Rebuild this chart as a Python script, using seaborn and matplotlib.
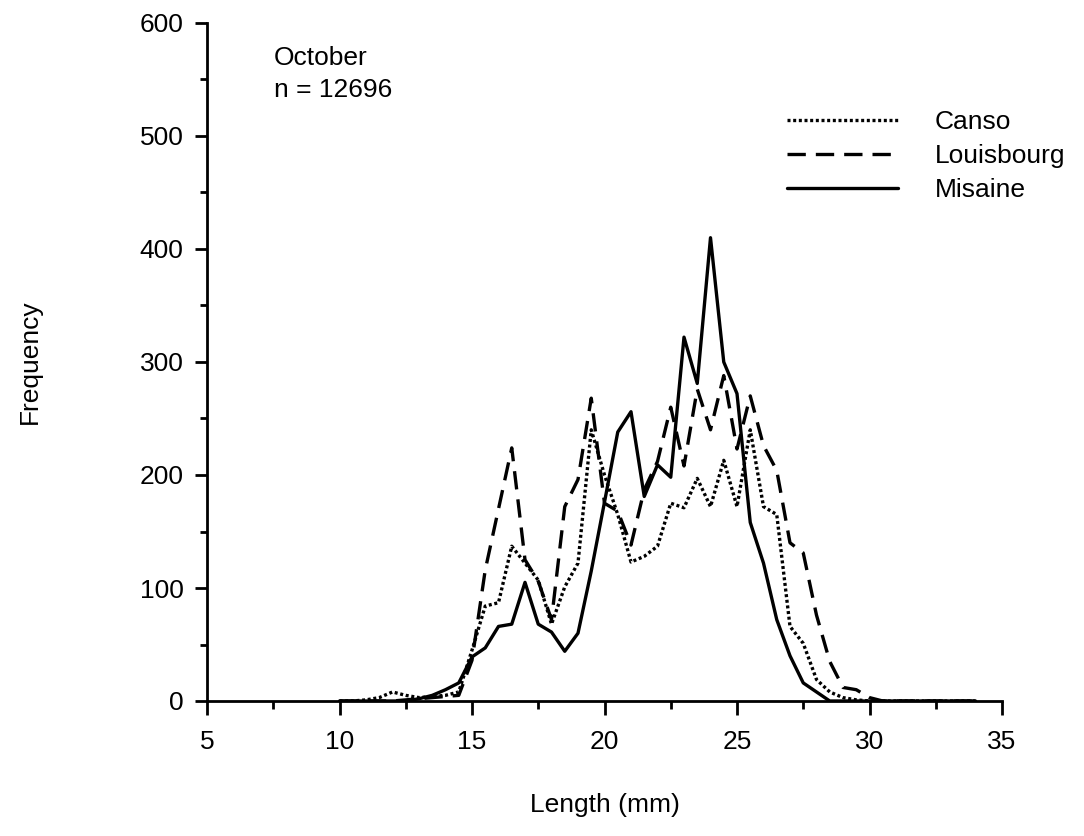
import matplotlib
matplotlib.use("Agg")
import matplotlib.pyplot as plt
from matplotlib.ticker import MultipleLocator
import seaborn as sns
import pandas as pd

# ---- data ----
lengths = [10.0, 10.5, 11.0, 11.5, 12.0, 12.5, 13.0, 13.5, 14.0, 14.5,
           15.0, 15.5, 16.0, 16.5, 17.0, 17.5, 18.0, 18.5, 19.0, 19.5,
           20.0, 20.5, 21.0, 21.5, 22.0, 22.5, 23.0, 23.5, 24.0, 24.5,
           25.0, 25.5, 26.0, 26.5, 27.0, 27.5, 28.0, 28.5, 29.0, 29.5,
           30.0, 30.5, 31.0, 31.5, 32.0, 32.5, 33.0, 33.5, 34.0]

canso = [0, 0, 1, 3, 8, 5, 3, 4, 5, 8,
         45, 84, 87, 137, 122, 107, 68, 101, 122, 240,
         200, 165, 123, 128, 137, 175, 171, 197, 172, 213,
         172, 240, 172, 165, 66, 51, 19, 8, 3, 1,
         0, 0, 0, 0, 0, 0, 0, 0, 0]

louisbourg = [0, 0, 0, 0, 0, 1, 2, 3, 4, 5,
              36, 116, 170, 224, 125, 106, 72, 172, 196, 268,
              175, 168, 138, 187, 212, 260, 208, 276, 240, 288,
              223, 270, 226, 204, 140, 131, 76, 35, 12, 10,
              3, 0, 0, 0, 0, 0, 0, 0, 0]

misaine = [0, 0, 0, 0, 0, 0, 2, 5, 10, 16,
           39, 47, 66, 68, 105, 68, 61, 44, 60, 115,
           176, 238, 256, 181, 209, 198, 322, 281, 410, 300,
           272, 158, 122, 72, 40, 16, 8, 0, 0, 0,
           0, 0, 0, 0, 0, 0, 0, 0, 0]

series_names = ["Canso", "Louisbourg", "Misaine"]
x_ticks = [5, 10, 15, 20, 25, 30, 35]
y_ticks = [0, 100, 200, 300, 400, 500, 600]
annotation = "October\nn = 12696"

# ---- style ----
sns.set_style("ticks")
plt.rcParams["font.family"] = ["Liberation Sans", "DejaVu Sans"]
plt.rcParams["text.color"] = "black"
plt.rcParams["axes.labelcolor"] = "black"
plt.rcParams["xtick.color"] = "black"
plt.rcParams["ytick.color"] = "black"
FS = 19

W, H = 1084, 836
fig = plt.figure(figsize=(W / 100, H / 100), dpi=100)
ax = fig.add_axes([207 / W, 1 - 701 / H, (1002 - 207) / W, (701 - 23) / H])

df = pd.DataFrame({"Length": lengths, "Canso": canso,
                   "Louisbourg": louisbourg, "Misaine": misaine})

styles = {
    "Canso": (0, (0.9, 0.8)),
    "Louisbourg": (0, (5.5, 3.0)),
    "Misaine": "-",
}
for name in series_names:
    sns.lineplot(data=df, x="Length", y=name, ax=ax, color="black",
                 linestyle=styles[name], linewidth=2.4, label=name)

ax.set_xlim(5, 35)
ax.set_ylim(0, 600)
ax.set_xticks(x_ticks)
ax.set_yticks(y_ticks)
ax.xaxis.set_minor_locator(MultipleLocator(2.5))
ax.yaxis.set_minor_locator(MultipleLocator(50))

sns.despine(ax=ax)
for side in ["left", "bottom"]:
    ax.spines[side].set_linewidth(2.0)
    ax.spines[side].set_color("black")

ax.tick_params(axis="x", which="major", direction="out", length=10, width=2,
               labelsize=FS, pad=11, colors="black")
ax.tick_params(axis="x", which="minor", direction="out", length=6, width=2,
               colors="black")
ax.tick_params(axis="y", which="major", direction="out", length=9, width=2,
               labelsize=FS, pad=8, colors="black")
ax.tick_params(axis="y", which="minor", direction="out", length=5, width=2,
               colors="black")

ax.set_xlabel("Length (mm)", fontsize=FS, color="black")
ax.set_ylabel("Frequency", fontsize=FS, color="black")
ax.xaxis.label.set_va("center")
ax.yaxis.label.set_va("center")
ax.xaxis.set_label_coords(0.5, (701 - 805) / (701 - 23))
ax.yaxis.set_label_coords((30 - 207) / (1002 - 207), 0.5)

ax.text((274 - 207) / (1002 - 207), 1 - (46 - 23) / (701 - 23), annotation,
        transform=ax.transAxes, fontsize=FS, va="top", ha="left",
        linespacing=1.4, color="black")

leg = ax.legend(frameon=False, fontsize=FS, loc="upper left",
                bbox_to_anchor=(787 / W, 1 - 110 / H), bbox_transform=fig.transFigure,
                borderpad=0, borderaxespad=0, handlelength=4.2, handletextpad=1.4,
                labelspacing=0.38)
for t in leg.get_texts():
    t.set_color("black")

fig.savefig("out.png", dpi=100, facecolor="white")
